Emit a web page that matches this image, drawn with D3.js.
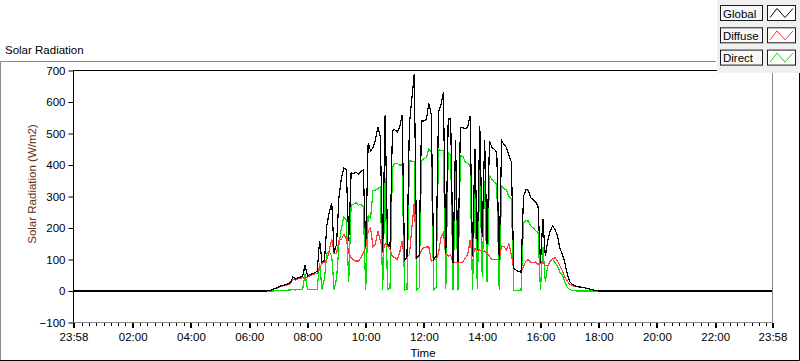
<!DOCTYPE html>
<html>
<head>
<meta charset="utf-8">
<script src="https://cdn.jsdelivr.net/npm/d3@7"></script>
<style>
  body { margin: 0; background: #fff; }
  svg { display: block; font-family: "Liberation Sans", Arial, sans-serif; font-size: 11.5px; }
</style>
</head>
<body>
<svg id="chart" width="800" height="361"></svg>
<script>
// readings every 5 minutes from 06:30 to 18:00 (W/m2), zero through the night
const firstReading = '06:30';
const stepMinutes = 5;

const globalValues = [
  0, 0, 1, 3, 6, 9,
  12, 16, 18, 20, 23, 27, 45, 38, 42, 44, 46, 82,
  48, 52, 55, 58, 62, 160, 92, 98, 210, 250, 280, 120,
  150, 300, 360, 390, 386, 160, 376, 372, 378, 370, 380, 385,
  140, 470, 445, 455, 480, 520, 490, 125, 560, 150, 140, 510,
  512, 505, 520, 560, 95, 110, 530, 610, 690, 105, 112, 540,
  540, 545, 595, 560, 100, 110, 570, 590, 630, 120, 546, 546,
  90, 480, 92, 519, 519, 515, 520, 556, 110, 450, 130, 525,
  170, 480, 150, 477, 455, 450, 440, 100, 477, 465, 455, 430,
  410, 72, 66, 62, 60, 300, 322, 320, 296, 290, 282, 270,
  90, 229, 110, 160, 190, 207, 195, 175, 135, 118, 92, 55,
  30, 22, 17, 15, 13, 12, 10, 9, 7, 5, 3, 2,
  0
];

const diffuseValues = [
  0, 0, 1, 3, 6, 8,
  11, 14, 16, 18, 20, 24, 38, 35, 38, 40, 42, 40,
  44, 48, 51, 54, 56, 75, 88, 92, 100, 130, 165, 118,
  120, 160, 165, 180, 165, 120, 105, 98, 95, 95, 105, 120,
  140, 190, 200, 140, 150, 190, 160, 125, 150, 145, 130, 110,
  106, 100, 122, 160, 95, 110, 115, 200, 280, 105, 112, 130,
  138, 140, 140, 95, 100, 100, 120, 170, 185, 120, 110, 115,
  90, 90, 90, 90, 92, 105, 115, 160, 108, 135, 128, 130,
  125, 127, 120, 110, 100, 100, 100, 100, 143, 140, 130, 150,
  115, 72, 66, 62, 60, 78, 95, 100, 90, 90, 92, 85,
  88, 90, 82, 80, 95, 102, 106, 95, 80, 65, 45, 32,
  22, 18, 15, 14, 12, 11, 10, 9, 7, 5, 3, 2,
  0
];

const directValues = [
  0, 0, 0, 0, 0, 1,
  1, 2, 2, 2, 3, 3, 5, 3, 4, 4, 4, 55,
  4, 4, 4, 4, 6, 88, 5, 40, 120, 125, 110, 5,
  40, 150, 200, 235, 225, 30, 275, 275, 280, 272, 276, 268,
  2, 240, 230, 320, 320, 325, 330, 3, 360, 5, 8, 392,
  405, 405, 400, 400, 3, 5, 413, 413, 410, 3, 10, 413,
  420, 425, 450, 440, 3, 10, 450, 445, 445, 5, 440, 430,
  3, 385, 3, 429, 428, 410, 405, 397, 3, 315, 5, 390,
  45, 350, 30, 366, 355, 345, 340, 3, 334, 325, 320, 300,
  293, 3, 2, 2, 3, 217, 223, 222, 207, 200, 192, 185,
  3, 140, 30, 80, 95, 100, 90, 80, 60, 52, 28, 12,
  5, 2, 1, 0, 0, 0, 0, 0, 0, 0, 0, 0,
  0
];

const yTicks = [-100, 0, 100, 200, 300, 400, 500, 600, 700];
const xTickHours = ['02:00', '04:00', '06:00', '08:00', '10:00', '12:00', '14:00', '16:00', '18:00', '20:00', '22:00'];
const seriesNames = ['Global', 'Diffuse', 'Direct'];
const seriesColors = ['#000000', '#ff3b3b', '#00e000'];

const svg = d3.select('#chart');
const plotLeft = 73.5, plotRight = 772.5, plotTop = 70.5, plotBottom = 322.5;

const parse = d3.timeParse('%Y-%m-%d %H:%M');
const dayStart = parse('2020-01-01 23:58');
const dayEnd = parse('2020-01-02 23:58');
const firstTime = parse('2020-01-02 ' + firstReading);

const x = d3.scaleTime().domain([dayStart, dayEnd]).range([plotLeft, plotRight]);
const y = d3.scaleLinear().domain([-100, 700]).range([plotBottom, plotTop]);

function toPoints(values) {
  const pts = values.map((v, i) => ({ t: d3.timeMinute.offset(firstTime, i * stepMinutes), v: v }));
  return [{ t: dayStart, v: 0 }].concat(pts, [{ t: dayEnd, v: 0 }]);
}
const series = [globalValues, diffuseValues, directValues].map((vals, i) => ({
  name: seriesNames[i], color: seriesColors[i], points: toPoints(vals)
}));

// OUTER PANEL
svg.append('rect').attr('width', 800).attr('height', 361).attr('fill', '#fff');
svg.append('path').attr('d', 'M0.5,360 V61.5 H716').attr('fill', 'none').attr('stroke', '#8a8a8a');
svg.append('path').attr('d', 'M0,360.5 H799.5 V72').attr('fill', 'none').attr('stroke', '#000');

svg.append('text').attr('x', 5).attr('y', 54).attr('fill', '#000').text('Solar Radiation');

// PLOT LINES (aliased like the original instrument panel)
const line = d3.line().x(d => x(d.t)).y(d => y(d.v));
svg.append('g')
  .selectAll('path')
  .data(series.slice().reverse())
  .enter().append('path')
  .attr('d', d => line(d.points))
  .attr('fill', 'none')
  .attr('stroke', d => d.color)
  .attr('stroke-width', 1.2)
  .attr('shape-rendering', 'crispEdges');

// PLOT BORDER
svg.append('path').attr('d', `M${plotLeft},${plotBottom} V${plotTop} H${plotRight}`).attr('fill', 'none').attr('stroke', '#000');
svg.append('path').attr('d', `M${plotLeft},${plotBottom} H${plotRight} V${plotTop}`).attr('fill', 'none').attr('stroke', '#8a8a8a');

// Y AXIS
const yAxis = svg.append('g')
  .attr('transform', `translate(${plotLeft},0)`)
  .call(d3.axisLeft(y).tickValues(yTicks).tickSize(5).tickPadding(3));
yAxis.select('.domain').remove();
yAxis.selectAll('line').attr('stroke', '#000');
yAxis.selectAll('text').attr('fill', '#000').style('font-size', '11.5px').style('font-family', 'inherit');

svg.append('text')
  .attr('transform', 'translate(36,184) rotate(-90)')
  .attr('text-anchor', 'middle')
  .attr('fill', '#6b2d12')
  .text('Solar Radiation (W/m2)');

// X AXIS
const majorTimes = [dayStart].concat(xTickHours.map(h => parse('2020-01-02 ' + h)), [dayEnd]);
const minorTimes = d3.timeMinute.every(15).range(dayStart, dayEnd)
  .filter(t => majorTimes.every(m => Math.abs(x(t) - x(m)) > 3));

const xMinor = svg.append('g')
  .attr('transform', `translate(0,${plotBottom})`)
  .call(d3.axisBottom(x).tickValues(minorTimes).tickSize(3).tickFormat(''));
xMinor.select('.domain').remove();
xMinor.selectAll('line').attr('stroke', '#000').attr('shape-rendering', 'crispEdges');

const xAxis = svg.append('g')
  .attr('transform', `translate(0,${plotBottom})`)
  .call(d3.axisBottom(x).tickValues(majorTimes).tickSize(5).tickPadding(5).tickFormat(d3.timeFormat('%H:%M')));
xAxis.select('.domain').remove();
xAxis.selectAll('line').attr('stroke', '#000').attr('stroke-width', 2).attr('shape-rendering', 'crispEdges');
xAxis.selectAll('text').attr('fill', '#000').style('font-size', '11.5px').style('font-family', 'inherit');

svg.append('text')
  .attr('x', (plotLeft + plotRight) / 2)
  .attr('y', 357)
  .attr('text-anchor', 'middle')
  .attr('fill', '#000')
  .text('Time');

// LEGEND
const legend = svg.append('g');
legend.append('rect').attr('x', 717).attr('y', 0).attr('width', 83).attr('height', 73).attr('fill', '#f0f0f0');
const rows = legend.selectAll('g')
  .data(series)
  .enter().append('g')
  .attr('transform', (d, i) => `translate(0,${5.5 + i * 22.3})`);
rows.append('rect')
  .attr('x', 720.5).attr('width', 42).attr('height', 15)
  .attr('fill', '#f7f7f7').attr('stroke', '#1a1a1a');
rows.append('text')
  .attr('x', 723).attr('y', 12)
  .attr('fill', '#000')
  .text(d => d.name);
rows.append('rect')
  .attr('x', 767.5).attr('width', 28).attr('height', 15)
  .attr('fill', '#fff').attr('stroke', '#1a1a1a');
rows.append('path')
  .attr('d', 'M770,12 L777,3 L785,12 L793,3')
  .attr('fill', 'none')
  .attr('stroke', d => d.color);
</script>
</body>
</html>
